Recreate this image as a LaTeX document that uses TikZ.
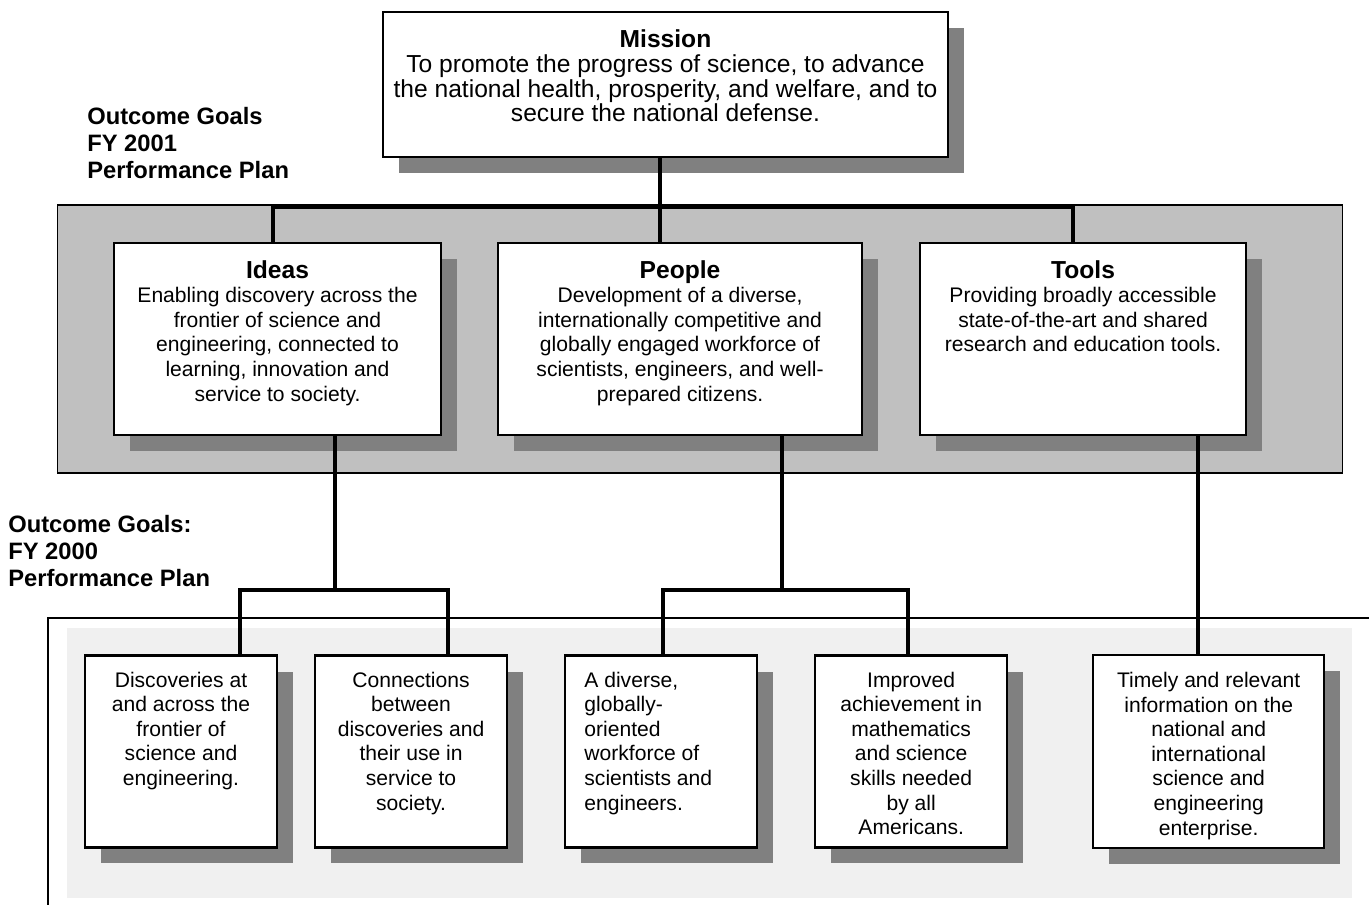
\documentclass[tikz,border=0pt]{standalone}
\usepackage{fontspec}
\setmainfont{Liberation Sans}
\usepackage{xcolor}
\definecolor{PanelGrey}{HTML}{C0C0C0}
\definecolor{ShadowGrey}{HTML}{808080}
\definecolor{PaleGrey}{HTML}{F0F0F0}
\usepackage{tikz}
\usetikzlibrary{positioning, shadows}
\newcommand{\goalhead}[1]{{\fontsize{14pt}{14pt}\selectfont\bfseries #1}}
\tikzstyle{goal} = [rectangle, draw=black, fill=white, line width=1.2pt, minimum width=3.84cm, minimum height=3.84cm, drop shadow={shadow xshift=0.32cm, shadow yshift=-0.32cm, fill=ShadowGrey, opacity=1}]
\tikzstyle{goaltext} = [inner sep=0pt, align=center]
\tikzstyle{heading} = [inner sep=0pt, align=left, anchor=north west, font=\bfseries\fontsize{13.5pt}{15.4pt}\selectfont]
\tikzstyle{line} = [line width=2.6pt, color=black]

\begin{document}
\begin{tikzpicture}[x=0.02cm, y=-0.02cm, font=\fontsize{12pt}{14pt}\selectfont]
        \useasboundingbox (0,0) rectangle (1369,905);

        % Panels
        \node [rectangle, draw=black, line width=0.6pt, fill=PanelGrey, minimum width=25.72cm, minimum height=5.36cm] (plan01) at (700,339) {};
        \fill [PaleGrey] (67,628) rectangle (1352,898);
        \draw [line width=1pt] (48,905) -- (48,618) -- (1369,618);

        \node [heading] (goals01) at (87,107) {Outcome Goals\\FY 2001\\Performance Plan};
        \begin{scope}
            \clip (0,0) rectangle (1369,590);
            \node [heading] (goals00) at (8,515) {Outcome Goals:\\FY 2000\\Performance Plan};
        \end{scope}

        % Mission
        \node [goal, minimum width=11.3cm, minimum height=2.9cm] (mission) at (665.5,84.5) {};
        \node [goaltext, font=\fontsize{14pt}{14.2pt}\selectfont, below=0.36cm of mission.north] (missiontext) {\textbf{Mission}\\To promote the progress of science, to advance\\the national health, prosperity, and welfare, and to\\secure the national defense.};

        % FY 2001 goals
        \node [goal, minimum width=6.54cm] (ideas) at (277.5,339) {};
        \node [goal, minimum width=7.28cm, right=1.1cm of ideas] (people) {};
        \node [goal, minimum width=6.52cm, right=1.12cm of people] (tools) {};
        \node [goaltext, below=0.36cm of ideas.north] (ideastext) {\goalhead{Ideas}\\Enabling discovery across the\\frontier of science and\\engineering, connected to\\learning, innovation and\\service to society.};
        \node [goaltext, below=0.36cm of people.north] (peopletext) {\goalhead{People}\\Development of a diverse,\\internationally competitive and\\globally engaged workforce of\\scientists, engineers, and well-\\prepared citizens.};
        \node [goaltext, below=0.36cm of tools.north] (toolstext) {\goalhead{Tools}\\Providing broadly accessible\\state-of-the-art and shared\\research and education tools.};

        % FY 2000 goals
        \node [goal] (disc) at (181,751.5) {};
        \node [goal, right=0.72cm of disc] (conn) {};
        \node [goal, right=1.12cm of conn] (divers) {};
        \node [goal, right=1.12cm of divers] (improv) {};
        \node [goal, minimum width=4.62cm, minimum height=3.86cm, right=1.68cm of improv] (timely) {};
        \node [goaltext, below=0.34cm of disc.north] (disctext) {Discoveries at\\and across the\\frontier of\\science and\\engineering.};
        \node [goaltext, below=0.34cm of conn.north] (conntext) {Connections\\between\\discoveries and\\their use in\\service to\\society.};
        \node [goaltext, align=left, below right=0.34cm and 0.4cm of divers.north west] (diverstext) {A diverse,\\globally-\\oriented\\workforce of\\scientists and\\engineers.};
        \node [goaltext, below=0.34cm of improv.north] (improvtext) {Improved\\achievement in\\mathematics\\and science\\skills needed\\by all\\Americans.};
        \node [goaltext, below=0.36cm of timely.north] (timelytext) {Timely and relevant\\information on the\\national and\\international\\science and\\engineering\\enterprise.};

        % Connect nodes
        \coordinate (busL) at (273,207);
        \coordinate (busM) at (660,207);
        \coordinate (busR) at (1073,207);
        \draw [line] (mission.south -| busM) -- (busM);
        \draw [line] (busL |- ideas.north) -- (busL) -- (busR) -- (busR |- tools.north);
        \draw [line] (busM) -- (busM |- people.north);

        \coordinate (forkI) at (335,590);
        \coordinate (forkIL) at (240,590);
        \coordinate (forkIR) at (448,590);
        \draw [line] (forkI |- ideas.south) -- (forkI);
        \draw [line] (forkIL |- disc.north) -- (forkIL) -- (forkIR) -- (forkIR |- conn.north);

        \coordinate (forkP) at (782,590);
        \coordinate (forkPL) at (663,590);
        \coordinate (forkPR) at (908,590);
        \draw [line] (forkP |- people.south) -- (forkP);
        \draw [line] (forkPL |- divers.north) -- (forkPL) -- (forkPR) -- (forkPR |- improv.north);

        \coordinate (dropT) at (1198,590);
        \draw [line] (dropT |- tools.south) -- (dropT |- timely.north);
    \end{tikzpicture}
\end{document}
